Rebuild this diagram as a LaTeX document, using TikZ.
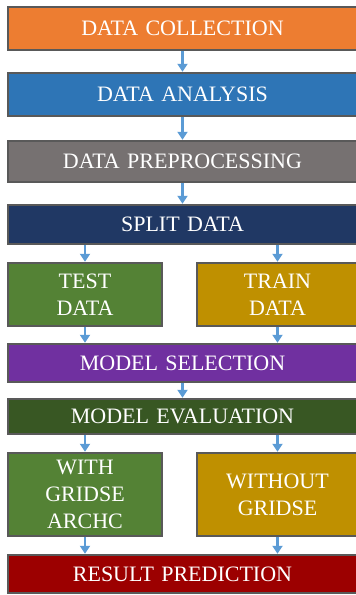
\documentclass[tikz,border=0pt]{standalone}
\usepackage{fontspec}
\setmainfont{Liberation Serif}
\usetikzlibrary{arrows.meta,positioning}
\definecolor{fcorange}{HTML}{ED7D31}
\definecolor{fcblue}{HTML}{2E75B6}
\definecolor{fcgrey}{HTML}{767171}
\definecolor{fcnavy}{HTML}{203864}
\definecolor{fcgreen}{HTML}{548235}
\definecolor{fcgold}{HTML}{BF9000}
\definecolor{fcpurple}{HTML}{7030A0}
\definecolor{fcforest}{HTML}{385723}
\definecolor{fcred}{HTML}{9C0000}
\definecolor{fcedge}{HTML}{595959}
\definecolor{fcarrow}{HTML}{5B9BD5}

\tikzset{
  stage/.style={draw=fcedge, line width=1.4pt, text=white, align=center,
    inner sep=0pt, font=\fontsize{22}{27}\selectfont},
  wide/.style={stage, minimum width=349, text width=340},
  half/.style={stage, minimum width=154, text width=150},
  flow/.style={-{Triangle[length=8pt, width=10pt]}, fcarrow, line width=2.6pt, shorten >=0.5pt},
}

\begin{document}
\begin{tikzpicture}[x=1pt, y=-1pt]
  \useasboundingbox (0,0) rectangle (356,595);
  \begin{scope}
    \clip (0,0) rectangle (356,595);
    % main pipeline
    \node[wide, fill=fcorange, minimum height=43] (collect) at (182.5,28.5) {DATA COLLECTION};
    \node[wide, fill=fcblue, minimum height=43] (analysis) at (182.5,94.5) {DATA ANALYSIS};
    \node[wide, fill=fcgrey, minimum height=41] (prep) at (182.5,161.5) {DATA PREPROCESSING};
    \node[wide, fill=fcnavy, minimum height=39] (split) at (182.5,224.5) {SPLIT DATA};
    % the two halves of the split
    \node[half, fill=fcgreen, minimum height=63] (test) at (85,294.5) {TEST\\DATA};
    \node[half, fill=fcgold, minimum width=161, minimum height=63] (train) at (277.5,294.5) {TRAIN\\DATA};
    \node[wide, fill=fcpurple, minimum height=38] (select) at (182.5,363) {MODEL SELECTION};
    \node[wide, fill=fcforest, minimum height=35] (evaluate) at (182.5,416.5) {MODEL EVALUATION};
    % evaluation branches
    \node[half, fill=fcgreen, minimum height=83] (with) at (85,494.5) {WITH\\GRIDSE\\ARCHC};
    \node[half, fill=fcgold, minimum width=161, minimum height=83] (without) at (277.5,494.5) {WITHOUT\\GRIDSE};
    \node[wide, fill=fcred, minimum height=38] (result) at (182.5,574) {RESULT PREDICTION};
  \end{scope}
  % connectors
  \draw[flow] (collect.south) -- (analysis.north);
  \draw[flow] (analysis.south) -- (prep.north);
  \draw[flow] (prep.south) -- (split.north);
  \draw[flow] (split.south -| test.north) -- (test.north);
  \draw[flow] (split.south -| train.north) -- (train.north);
  \draw[flow] (test.south) -- (test.south |- select.north);
  \draw[flow] (train.south) -- (train.south |- select.north);
  \draw[flow] (select.south) -- (evaluate.north);
  \draw[flow] (evaluate.south -| with.north) -- (with.north);
  \draw[flow] (evaluate.south -| without.north) -- (without.north);
  \draw[flow] (with.south) -- (with.south |- result.north);
  \draw[flow] (without.south) -- (without.south |- result.north);
\end{tikzpicture}
\end{document}
